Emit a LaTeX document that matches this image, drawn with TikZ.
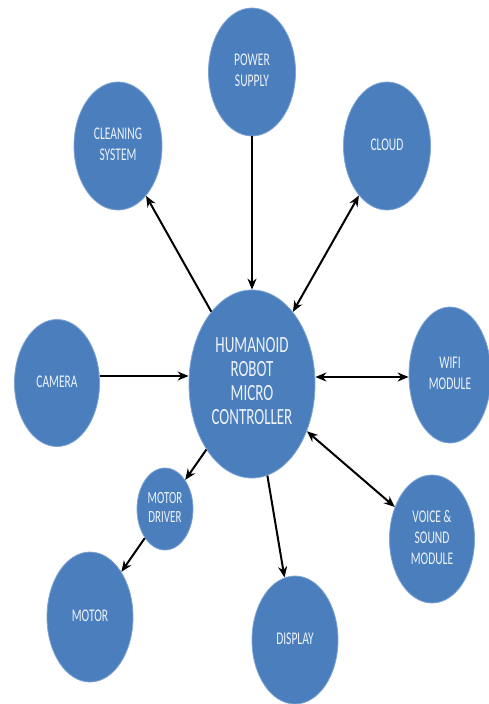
\documentclass[tikz,border=0pt]{standalone}
\usepackage{fontspec}
\setmainfont{Carlito}
\usetikzlibrary{shapes.geometric,arrows.meta}
\definecolor{blob}{HTML}{4A7EBD}
\definecolor{blobedge}{HTML}{7FA3D4}
\definecolor{blobtext}{HTML}{EEF3FA}
\tikzset{
  blobnode/.style={ellipse, fill=blob, draw=blobedge, line width=0.8pt, inner sep=0pt,
    text=blobtext, align=center, font=\fontsize{11.5}{13.5}\selectfont},
  conn/.style={line width=2pt, -{Stealth[length=11pt,width=9pt]}},
  bconn/.style={line width=2pt, {Stealth[length=11pt,width=9pt]}-{Stealth[length=11pt,width=9pt]}},
}
\newcommand{\stretchtxt}[1]{\scalebox{1}[1.55]{\begin{tabular}{@{}c@{}}#1\end{tabular}}}
\begin{document}
\begin{tikzpicture}[x=1pt,y=-1pt]
\useasboundingbox (0,0) rectangle (488,704);
\node[blobnode, minimum width=87pt, minimum height=128pt] (power) at (252,72) {\stretchtxt{POWER\\SUPPLY}};
\node[blobnode, minimum width=88pt, minimum height=128pt] (clean) at (118,146) {\stretchtxt{CLEANING\\SYSTEM}};
\node[blobnode, minimum width=87pt, minimum height=128pt] (cloud) at (387,146) {\stretchtxt{CLOUD}};
\node[blobnode, minimum width=126pt, minimum height=188pt, font=\fontsize{15}{15.5}\selectfont] (ctrl) at (252,384) {\stretchtxt{HUMANOID\\ROBOT\\MICRO\\CONTROLLER}};
\node[blobnode, minimum width=85pt, minimum height=127pt] (cam) at (57,383) {\stretchtxt{CAMERA}};
\node[blobnode, minimum width=82pt, minimum height=136pt] (wifi) at (450,375) {\stretchtxt{WIFI\\MODULE}};
\node[blobnode, minimum width=56pt, minimum height=82pt, font=\fontsize{11}{12.5}\selectfont] (mdrv) at (165,509) {\stretchtxt{MOTOR\\DRIVER}};
\node[blobnode, minimum width=85pt, minimum height=128pt] (voice) at (432,539) {\stretchtxt{VOICE \&\\SOUND\\MODULE}};
\node[blobnode, minimum width=86pt, minimum height=130pt] (motor) at (90,617) {\stretchtxt{MOTOR}};
\node[blobnode, minimum width=86pt, minimum height=128pt] (disp) at (295,640) {\stretchtxt{DISPLAY}};

\draw[conn] (power) -- (ctrl);
\draw[conn] (ctrl) -- (clean);
\draw[bconn] (ctrl) -- (cloud);
\draw[conn] (cam.east |- 0,376) coordinate (camE) -- (ctrl.west |- 0,376) coordinate (ctrlW);
\draw[bconn] (ctrl.east |- 0,377) coordinate (ctrlE) -- (wifi.west |- 0,377) coordinate (wifiW);
\draw[conn] (ctrl) -- (mdrv);
\draw[conn] (mdrv) -- (motor);
\draw[conn] (ctrl) -- (disp);
\draw[bconn] (ctrl) -- (voice);
\end{tikzpicture}
\end{document}
